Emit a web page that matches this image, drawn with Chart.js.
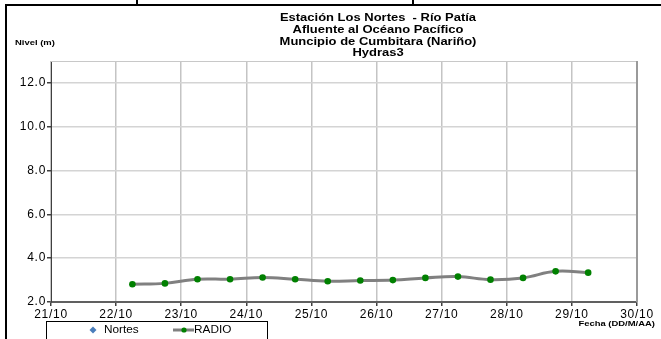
<!DOCTYPE html>
<html>
<head>
<meta charset="utf-8">
<script src="https://cdn.jsdelivr.net/npm/chart.js@4/dist/chart.umd.min.js"></script>
<style>
  html, body { margin: 0; padding: 0; background: #fff; }
  canvas { display: block; }
</style>
</head>
<body>
<canvas id="myChart" width="661" height="339"></canvas>
<script>
// datos
const fechas = ['22/10 06:00', '22/10 18:00', '23/10 06:00', '23/10 18:00', '24/10 06:00',
                '24/10 18:00', '25/10 06:00', '25/10 18:00', '26/10 06:00', '26/10 18:00',
                '27/10 06:00', '27/10 18:00', '28/10 06:00', '28/10 18:00', '29/10 06:00']
const radio = [2.81, 2.85, 3.04, 3.04, 3.12, 3.04, 2.95, 2.98, 3.0, 3.1, 3.16, 3.02, 3.1, 3.4, 3.34]
const nortes = []
const diasTicks = [21, 22, 23, 24, 25, 26, 27, 28, 29, 30]
const nivelTicks = [2, 4, 6, 8, 10, 12]
const titulo = ['Estación Los Nortes  - Río Patía', 'Afluente al Océano Pacífico',
                'Muncipio de Cumbitara (Nariño)', 'Hydras3']

const fuente = '"Liberation Sans", Arial, sans-serif'
const ESTIRA = 1.18  // el original esta algo estirado a lo ancho

// '22/10 06:00' -> 22.25
const aDia = f => {
    const [d, h] = f.split(' ')
    const [hh, mm] = h.split(':')
    return parseInt(d.split('/')[0]) + (parseInt(hh) + parseInt(mm) / 60) / 24
}

// texto estirado horizontalmente
const texto = (c, t, x, y, align) => {
    c.save()
    c.translate(x, y)
    c.scale(ESTIRA, 1)
    c.textAlign = align
    c.fillText(t, 0, 0)
    c.restore()
}

const decoracion = {
    id: 'decoracion',
    beforeDraw(chart) {
        const c = chart.ctx
        c.save()
        c.fillStyle = '#fff'
        c.fillRect(0, 0, chart.width, chart.height)
        c.restore()
        c.letterSpacing = '0.7px'
    },
    beforeDatasetsDraw(chart) {
        const c = chart.ctx
        const a = chart.chartArea
        c.save()
        c.strokeStyle = '#c8c8c8'
        c.lineWidth = 1
        c.beginPath()
        c.moveTo(a.left, a.top + 0.5)
        c.lineTo(a.right, a.top + 0.5)
        c.stroke()
        c.strokeStyle = '#9a9a9a'
        c.lineWidth = 2
        c.beginPath()
        c.moveTo(a.right, a.top)
        c.lineTo(a.right, a.bottom)
        c.stroke()
        c.restore()
    },
    afterDraw(chart) {
        const c = chart.ctx
        c.letterSpacing = '0px'
        c.save()
        // marco de la hoja
        c.fillStyle = '#000'
        c.fillRect(5, 4, 656, 2)
        c.fillRect(5, 4, 2, 335)
        c.fillRect(136, 0, 2, 4)
        c.fillRect(412, 0, 2, 4)

        // titulo
        c.font = 'bold 11px ' + fuente
        c.textBaseline = 'middle'
        titulo.forEach((t, i) => texto(c, t, 378, 18 + i * 11.8, 'center'))

        // titulos de ejes
        c.font = 'bold 8px ' + fuente
        texto(c, 'Nivel (m)', 15, 43, 'left')
        texto(c, 'Fecha (DD/M/AA)', 655, 324, 'right')

        // leyenda
        c.strokeStyle = '#000'
        c.lineWidth = 1
        c.strokeRect(46.5, 321.5, 221, 22)
        const ds = chart.data.datasets
        c.fillStyle = ds[0].backgroundColor
        c.beginPath()
        c.moveTo(93, 326.5)
        c.lineTo(96.5, 330)
        c.lineTo(93, 333.5)
        c.lineTo(89.5, 330)
        c.closePath()
        c.fill()
        c.fillStyle = '#000'
        c.font = '10px ' + fuente
        texto(c, ds[0].label, 104, 330.5, 'left')
        c.strokeStyle = ds[1].borderColor
        c.lineWidth = 3
        c.beginPath()
        c.moveTo(173, 330)
        c.lineTo(194, 330)
        c.stroke()
        c.fillStyle = ds[1].pointBackgroundColor
        c.beginPath()
        c.arc(184, 330, 2.6, 0, Math.PI * 2)
        c.fill()
        c.fillStyle = '#000'
        texto(c, ds[1].label, 194, 330.5, 'left')
        c.restore()
    }
}

const ctx = document.getElementById('myChart').getContext('2d')
const myChart = new Chart(ctx, {
    type: 'line',
    data: {
        datasets: [{
            label: 'Nortes',
            data: nortes,
            borderColor: '#4a7ebb',
            backgroundColor: '#4a7ebb',
            pointStyle: 'rectRot'
        }, {
            label: 'RADIO',
            data: fechas.map((f, i) => ({ x: aDia(f), y: radio[i] })),
            borderColor: '#808080',
            borderWidth: 3,
            tension: 0.4,
            pointRadius: 3.3,
            pointBorderWidth: 0,
            pointBackgroundColor: '#008000',
            pointBorderColor: '#008000'
        }]
    },
    options: {
        responsive: false,
        animation: false,
        devicePixelRatio: 1,
        layout: { padding: { top: 61, right: 24, left: 0, bottom: 0 } },
        plugins: {
            legend: { display: false },
            title: { display: false },
            tooltip: { enabled: false }
        },
        scales: {
            x: {
                type: 'linear',
                min: 21,
                max: 30,
                afterBuildTicks: s => { s.ticks = diasTicks.map(v => ({ value: v })) },
                afterFit: s => { s.height = 37 },
                ticks: {
                    callback: v => v + '/10',
                    color: '#000',
                    font: { family: fuente, size: 12 },
                    maxRotation: 0,
                    autoSkip: false,
                    padding: 1
                },
                grid: { color: '#c4c4c4', lineWidth: 1.5, tickLength: 4, tickColor: '#404040' },
                border: { color: '#606060', width: 2 }
            },
            y: {
                min: 2,
                max: 13,
                afterBuildTicks: s => { s.ticks = nivelTicks.map(v => ({ value: v })) },
                afterFit: s => { s.width = 51 },
                ticks: {
                    callback: v => v.toFixed(1),
                    color: '#000',
                    font: { family: fuente, size: 12 },
                    padding: 1
                },
                grid: { color: '#d4d4d4', lineWidth: 1.5, tickLength: 4, tickColor: '#404040' },
                border: { color: '#404040', width: 1 }
            }
        }
    },
    plugins: [decoracion]
})
</script>
</body>
</html>
